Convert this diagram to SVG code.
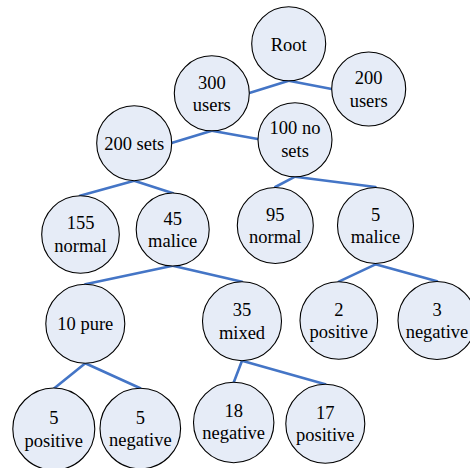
<svg xmlns="http://www.w3.org/2000/svg" width="470" height="468" viewBox="0 0 470 468">
<style>
.n circle{fill:#E6ECF7;stroke:#000;stroke-width:1.1}
.n text{font-family:'Liberation Serif','DejaVu Serif',serif;font-size:18.5px;fill:#000;text-anchor:middle}
#edges line{stroke:#4475C6;stroke-width:2.6;stroke-linecap:round}
</style>
<rect width="470" height="468" fill="#fff"/>
<g id="edges">
<line x1="288.7" y1="80.7" x2="249.3" y2="93"/>
<line x1="288.7" y1="80.7" x2="331.7" y2="89"/>
<line x1="211.8" y1="130.7" x2="171.5" y2="143"/>
<line x1="211.8" y1="130.7" x2="257.8" y2="139"/>
<line x1="134.2" y1="180.7" x2="80" y2="195.7"/>
<line x1="134.2" y1="180.7" x2="173" y2="193.3"/>
<line x1="295" y1="176.7" x2="275.3" y2="187"/>
<line x1="295" y1="176.7" x2="375.5" y2="187"/>
<line x1="172.7" y1="265.7" x2="85.3" y2="284.3"/>
<line x1="172.7" y1="265.7" x2="242" y2="281.7"/>
<line x1="375.5" y1="264.3" x2="338.8" y2="281.7"/>
<line x1="375.5" y1="264.3" x2="437" y2="281.3"/>
<line x1="85.3" y1="363.3" x2="54.3" y2="388.3"/>
<line x1="85.3" y1="363.3" x2="140.3" y2="388.3"/>
<line x1="242" y1="360.7" x2="233.7" y2="382.5"/>
<line x1="242" y1="360.7" x2="325.3" y2="384.3"/>
</g>
<g id="root" class="n"><circle cx="288.7" cy="43.7" r="37"/><text x="288.7" y="50.5">Root</text></g>
<g id="users300" class="n"><circle cx="211.8" cy="93.3" r="37.5"/><text x="211.8" y="88.5">300</text><text x="211.8" y="110.8">users</text></g>
<g id="users200" class="n"><circle cx="368.7" cy="89" r="37"/><text x="368.7" y="84.2">200</text><text x="368.7" y="106.5">users</text></g>
<g id="sets200" class="n"><circle cx="134.2" cy="143.2" r="37.5"/><text x="134.2" y="149.5">200 sets</text></g>
<g id="nosets100" class="n"><circle cx="295" cy="139.7" r="37"/><text x="295" y="133.5">100 no</text><text x="295" y="156.7">sets</text></g>
<g id="normal155" class="n"><circle cx="80.5" cy="234.5" r="38.8"/><text x="80.5" y="229.2">155</text><text x="80.5" y="251.7">normal</text></g>
<g id="malice45" class="n"><circle cx="172.7" cy="229.5" r="36.5"/><text x="172.7" y="224.5">45</text><text x="172.7" y="247">malice</text></g>
<g id="normal95" class="n"><circle cx="275.3" cy="225.5" r="38"/><text x="275.3" y="220.5">95</text><text x="275.3" y="243">normal</text></g>
<g id="malice5" class="n"><circle cx="375.5" cy="225.5" r="38"/><text x="375.5" y="220.5">5</text><text x="375.5" y="243">malice</text></g>
<g id="pure10" class="n"><circle cx="85.3" cy="323.8" r="39.5"/><text x="85.3" y="330">10 pure</text></g>
<g id="mixed35" class="n"><circle cx="242" cy="321.2" r="39.5"/><text x="242" y="316.3">35</text><text x="242" y="338.8">mixed</text></g>
<g id="positive2" class="n"><circle cx="338.8" cy="320.5" r="38.8"/><text x="338.8" y="315.7">2</text><text x="338.8" y="337.8">positive</text></g>
<g id="negative3" class="n"><circle cx="437" cy="320.5" r="39"/><text x="437" y="315.7">3</text><text x="437" y="337.8">negative</text></g>
<g id="positive5" class="n"><circle cx="53.8" cy="429" r="41"/><text x="53.8" y="424">5</text><text x="53.8" y="446.7">positive</text></g>
<g id="negative5" class="n"><circle cx="140.3" cy="428.5" r="40.3"/><text x="140.3" y="423.5">5</text><text x="140.3" y="446.2">negative</text></g>
<g id="negative18" class="n"><circle cx="233.7" cy="422.5" r="40.2"/><text x="233.7" y="417.3">18</text><text x="233.7" y="438.8">negative</text></g>
<g id="positive17" class="n"><circle cx="325.3" cy="423.8" r="39.5"/><text x="325.3" y="418.8">17</text><text x="325.3" y="441">positive</text></g>
</svg>
